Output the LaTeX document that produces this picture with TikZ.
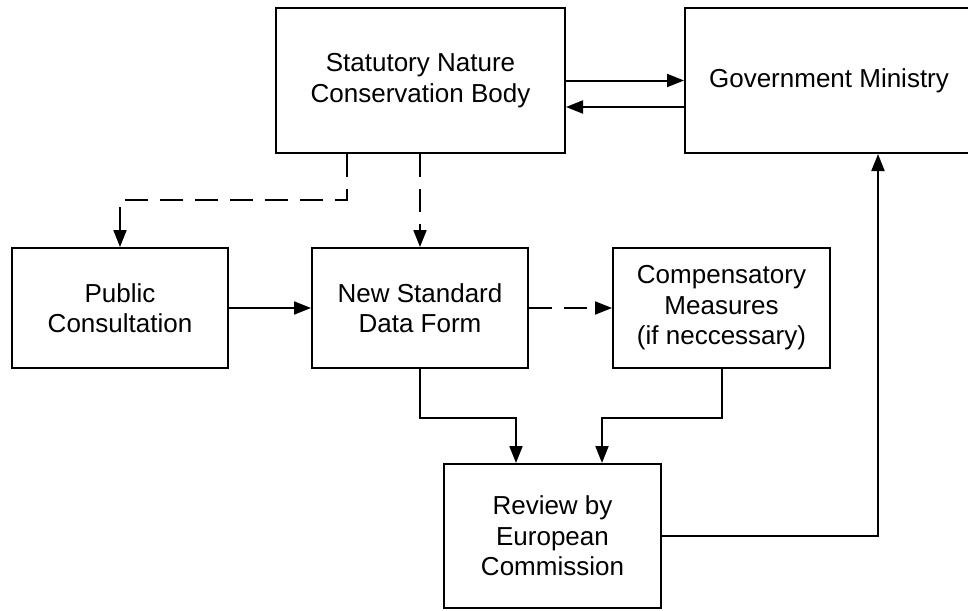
\documentclass[tikz,border=0pt]{standalone}
\usepackage{fontspec}
\setmainfont{Liberation Sans}
\usetikzlibrary{arrows.meta,calc}
\begin{document}
\begin{tikzpicture}[x=1pt,y=-1pt,
  box/.style={draw, line width=2pt, align=center, inner sep=0pt,
    font=\fontsize{26}{30.5}\selectfont},
  arr/.style={line width=2pt, -{Triangle[length=17pt,width=13pt]}},
  dasharr/.style={arr, dash pattern=on 23pt off 12pt}]
  \path[use as bounding box] (0,0) rectangle (968,610);
  \begin{scope}
  \clip (0,0) rectangle (968,610);
  % process boxes
  \node[box, minimum width=289pt, minimum height=145pt] (sncb) at (420.5,80.5)
    {Statutory Nature\\Conservation Body};
  \node[box, minimum width=288pt, minimum height=145pt] (gm) at (829,80.5)
    {Government Ministry};
  \node[box, minimum width=216pt, minimum height=120pt] (pc) at (120,308)
    {Public\\Consultation};
  \node[box, minimum width=216pt, minimum height=120pt] (nsdf) at (420,308)
    {New Standard\\Data Form};
  \node[box, minimum width=217pt, minimum height=120pt] (comp) at (721.5,308)
    {Compensatory\\Measures\\(if neccessary)};
  \node[box, minimum width=217pt, minimum height=144pt] (rev) at (552.5,536)
    {Review by\\European\\Commission};
  % connectors
  \draw[arr] (sncb.east) -- (sncb.east -| gm.west);
  \draw[arr] ([yshift=-26.5pt]gm.west) -- ([yshift=-26.5pt]gm.west -| sncb.east);
  \draw[dasharr] ([xshift=-73.5pt]sncb.south) |- ($(pc.north)+(0,-47)$) -- (pc.north);
  \draw[dasharr] (sncb.south -| nsdf.north) -- (nsdf.north);
  \draw[arr] (pc.east) -- (nsdf.west);
  \draw[dasharr] (nsdf.east) -- (comp.west);
  \draw[arr] (nsdf.south) -- ++(0,49) -| ([xshift=-36.5pt]rev.north);
  \draw[arr] (comp.south) -- ++(0,49) -| ([xshift=49.5pt]rev.north);
  \draw[arr] (rev.east) -| ([xshift=49pt]gm.south);
  \end{scope}
\end{tikzpicture}
\end{document}
